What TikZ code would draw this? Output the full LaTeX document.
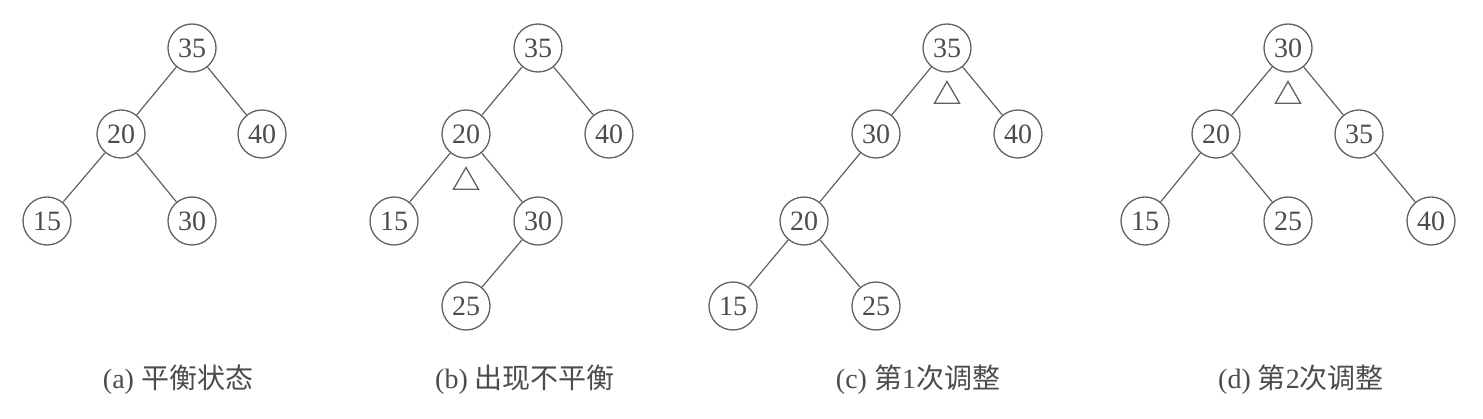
\documentclass[tikz,border=0pt]{standalone}
\usepackage{fontspec}
\setmainfont{Liberation Serif}
\newfontfamily\cjk{Noto Sans CJK SC}
\usetikzlibrary{shapes.geometric}
\definecolor{lc}{gray}{0.38}
\definecolor{tc}{gray}{0.30}
\begin{document}
\begin{tikzpicture}[x=1pt,y=-1pt,
  tn/.style={circle, draw=lc, line width=1.3pt, minimum size=48pt, inner sep=0pt, text=tc, font=\fontsize{28}{32}\selectfont},
  ed/.style={draw=lc, line width=1.2pt},
  mk/.style={draw=lc, line width=1.3pt, regular polygon, regular polygon sides=3, minimum size=29pt, inner sep=0pt},
  captxt/.style={text=tc, font=\fontsize{28}{32}\selectfont, inner sep=0pt}]
\useasboundingbox (0,0) rectangle (1483,419);
% (a)
\node[tn] (a35) at (192,48) {35};
\node[tn] (a20) at (121,134) {20};
\node[tn] (a40) at (262,134) {40};
\node[tn] (a15) at (47,221) {15};
\node[tn] (a30) at (192,221) {30};
\draw[ed] (a35) -- (a20);
\draw[ed] (a35) -- (a40);
\draw[ed] (a20) -- (a15);
\draw[ed] (a20) -- (a30);
\node[captxt] (capa) at (178,380) {(a) {\cjk 平衡状态}};
% (b)
\node[tn] (b35) at (538,48) {35};
\node[tn] (b20) at (466,134) {20};
\node[tn] (b40) at (609,134) {40};
\node[tn] (b15) at (394,221) {15};
\node[tn] (b30) at (538,221) {30};
\node[tn] (b25) at (466,306) {25};
\draw[ed] (b35) -- (b20);
\draw[ed] (b35) -- (b40);
\draw[ed] (b20) -- (b15);
\draw[ed] (b20) -- (b30);
\draw[ed] (b30) -- (b25);
\node[mk] (bm) at (466,182) {};
\node[captxt] (capb) at (525,380) {(b) {\cjk 出现不平衡}};
% (c)
\node[tn] (c35) at (947,48) {35};
\node[tn] (c30) at (876,134) {30};
\node[tn] (c40) at (1018,134) {40};
\node[tn] (c20) at (804,221) {20};
\node[tn] (c15) at (733,306) {15};
\node[tn] (c25) at (876,306) {25};
\draw[ed] (c35) -- (c30);
\draw[ed] (c35) -- (c40);
\draw[ed] (c30) -- (c20);
\draw[ed] (c20) -- (c15);
\draw[ed] (c20) -- (c25);
\node[mk] (cm) at (947,96) {};
\node[captxt] (capc) at (918,380) {(c) {\cjk 第}1{\cjk 次调整}};
% (d)
\node[tn] (d30) at (1288,48) {30};
\node[tn] (d20) at (1216,134) {20};
\node[tn] (d35) at (1359,134) {35};
\node[tn] (d15) at (1145,221) {15};
\node[tn] (d25) at (1288,221) {25};
\node[tn] (d40) at (1431,221) {40};
\draw[ed] (d30) -- (d20);
\draw[ed] (d30) -- (d35);
\draw[ed] (d20) -- (d15);
\draw[ed] (d20) -- (d25);
\draw[ed] (d35) -- (d40);
\node[mk] (dm) at (1288,96) {};
\node[captxt] (capd) at (1301,380) {(d) {\cjk 第}2{\cjk 次调整}};
\end{tikzpicture}
\end{document}
